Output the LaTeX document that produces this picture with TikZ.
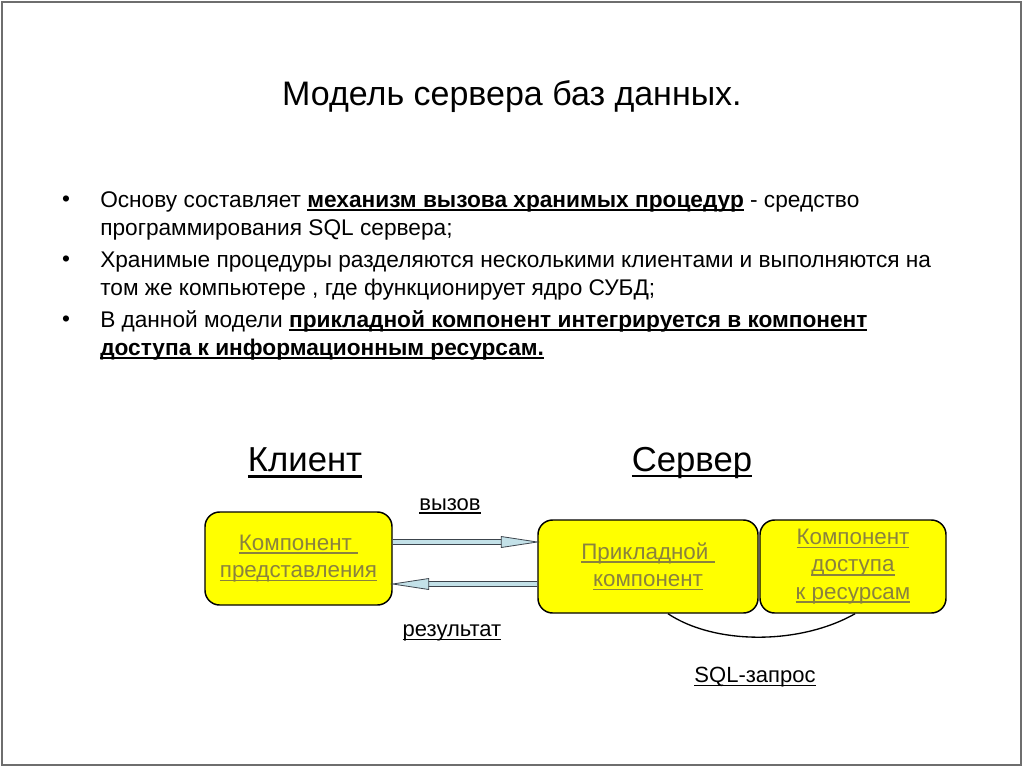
\documentclass[tikz,border=0pt]{standalone}
\usepackage{fontspec}
\setmainfont{Liberation Sans}
\usetikzlibrary{calc}
\newcommand\myul[1]{\setbox0\hbox{#1}\rlap{\rule[-0.17em]{\wd0}{0.07em}}\box0\relax}
\definecolor{boxyellow}{RGB}{255,255,0}
\definecolor{boxtext}{RGB}{138,130,62}
\definecolor{shaftblue}{RGB}{195,225,232}
\definecolor{shaftdark}{RGB}{60,68,76}
\definecolor{framegray}{RGB}{110,110,110}
\tikzset{
  box/.style={draw=black, line width=1.1pt, fill=boxyellow, rounded corners=11pt,
    minimum height=69.75pt, align=center, text=boxtext, inner sep=0pt,
    font=\fontsize{16.8}{20.5}\selectfont},
  bulletline/.style={anchor=base west, inner sep=0pt, align=left,
    font=\fontsize{17}{21}\selectfont},
  bulletdot/.style={inner sep=0pt, font=\fontsize{17}{21}\selectfont},
  head/.style={font=\fontsize{26}{30}\selectfont, inner sep=0pt},
  lbl/.style={font=\fontsize{16.5}{20}\selectfont, inner sep=0pt},
  shaft/.style={draw=shaftdark, line width=0.7pt, double=shaftblue, double distance=2.6pt},
  tip/.style={draw=shaftdark, line width=0.6pt, fill=shaftblue}
}
\begin{document}
\begin{tikzpicture}[x=0.75pt, y=-0.75pt]
\useasboundingbox (0,0) rectangle (1024,768);
\fill[white] (0,0) rectangle (1024,768);
\draw[framegray, line width=1.5pt] (2,2) rectangle (1021,765);

\node[inner sep=0pt, font=\fontsize{25.5}{30}\selectfont] (title) at (512,97) {Модель сервера баз данных.};

\node[bulletdot] (d1) at (66,201) {•};
\node[bulletdot] (d2) at (66,261) {•};
\node[bulletdot] (d3) at (66,321) {•};
\node[bulletline] (b1) at (100,235) {Основу составляет \myul{\textbf{механизм вызова хранимых процедур}} - средство\\программирования SQL сервера;};
\node[bulletline] (b2) at (100,295) {Хранимые процедуры разделяются несколькими клиентами и выполняются на\\том же компьютере , где функционирует ядро СУБД;};
\node[bulletline] (b3) at (100,355) {В данной модели \myul{\textbf{прикладной компонент интегрируется в компонент}}\\\myul{\textbf{доступа к информационным ресурсам.}}};

\node[head] (client) at (305,463) {\myul{Клиент}};
\node[head] (server) at (692,463) {\myul{Сервер}};

\node[box, minimum width=140.25pt] (A) at (298.5,558.5) {\myul{Компонент }\\\myul{представления}};
\node[box, minimum width=165pt] (B) at (648,566.5) {\myul{Прикладной }\\\myul{компонент}};
\node[box, minimum width=139.5pt] (C) at (853,566.5) {\myul{Компонент}\\\myul{доступа}\\\myul{к ресурсам}};

\coordinate (ytop) at (0,542);
\coordinate (ybot) at (0,584);
% call arrow A -> B
\coordinate (s1) at (A.east |- ytop);
\coordinate (e1) at (B.west |- ytop);
\draw[shaft] (s1) -- ($(e1)+(-34,0)$);
\draw[tip] (e1) -- ($(e1)+(-36,-5.5)$) -- ($(e1)+(-36,5.5)$) -- cycle;
% result arrow B -> A
\coordinate (s2) at (B.west |- ybot);
\coordinate (e2) at (A.east |- ybot);
\draw[shaft] (s2) -- ($(e2)+(34,0)$);
\draw[tip] (e2) -- ($(e2)+(36,-5.5)$) -- ($(e2)+(36,5.5)$) -- cycle;

\node[lbl] (call) at (450,506) {\myul{вызов}};
\node[lbl] (res) at (452,633) {\myul{результат}};

% SQL query curve
\draw[line width=1pt] ($(B.south)+(20,0)$) .. controls (715,645) and (800,645) .. ($(C.south)+(2,0)$);
\node[lbl] (sql) at (755,677) {\myul{SQL-запрос}};
\end{tikzpicture}
\end{document}
